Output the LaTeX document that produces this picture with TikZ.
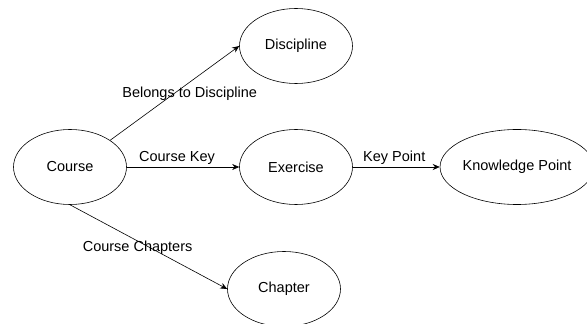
\documentclass[tikz,border=0pt]{standalone}
\usepackage{fontspec}
\setmainfont{Liberation Sans}
\usetikzlibrary{shapes.geometric,arrows.meta}

\begin{document}
\begin{tikzpicture}[x=1pt,y=1pt,
  >={Stealth[length=7pt,width=6pt]},
  entity/.style={ellipse,draw,line width=0.6pt,inner sep=0pt,
    minimum width=113pt,minimum height=75pt},
  link/.style={->,line width=0.6pt},
  every node/.append style={font=\fontsize{14.5}{17}\selectfont}]
\useasboundingbox (0,0) rectangle (587,324);

\node[entity] (course) at (70,157) {Course};
\node[entity] (discipline) at (296,278) {Discipline};
\node[entity] (exercise) at (296,157) {Exercise};
\node[entity,minimum width=130pt] (knowledge) at (517,157) {Knowledge Point};
\node[entity] (chapter) at (284,35) {Chapter};

\draw[link] (course.north east) -- (discipline.west)
  node[midway,xshift=15pt,yshift=-1pt] {Belongs to Discipline};
\draw[link] (course.east) -- (exercise.west)
  node[midway,xshift=-6pt,yshift=9pt] {Course Key};
\draw[link] (exercise.east) -- (knowledge.west)
  node[midway,xshift=-2pt,yshift=9pt] {Key Point};
\draw[link] (course.south) -- (chapter.west)
  node[midway,xshift=-11pt,yshift=-1pt] {Course Chapters};
\end{tikzpicture}
\end{document}
